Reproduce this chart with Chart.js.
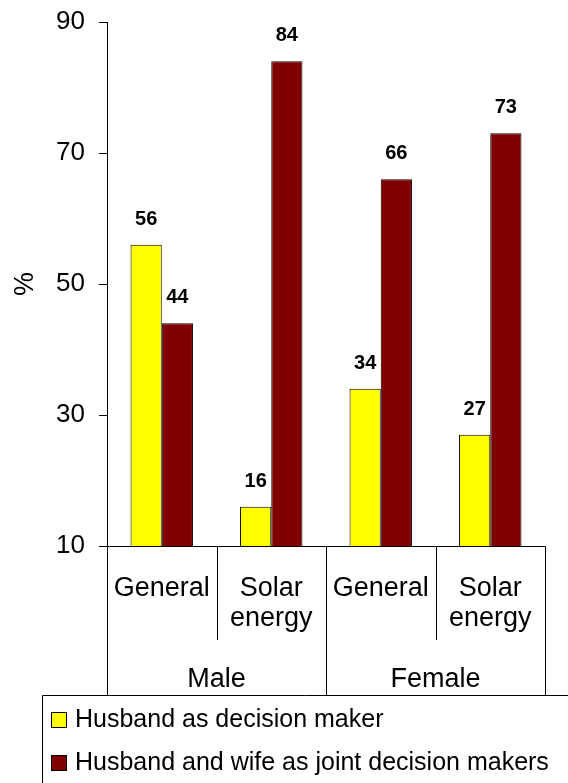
<!DOCTYPE html>
<html>
<head>
<meta charset="utf-8">
<script src="https://cdn.jsdelivr.net/npm/chart.js@4/dist/chart.umd.min.js"></script>
<style>
  html, body { margin: 0; padding: 0; background: #fff; }
  #wrap { width: 568px; height: 783px; }
</style>
</head>
<body>
<div id="wrap"><canvas id="c" width="568" height="783"></canvas></div>
<script>
// Decision-making shares (%) by respondent sex and decision topic
const groups = ['Male', 'Female'];
const categories = ['General', 'Solar energy', 'General', 'Solar energy'];
const categoryLines = [['General'], ['Solar', 'energy'], ['General'], ['Solar', 'energy']];
const husbandOnly = [56, 16, 34, 27];
const jointDecision = [44, 84, 66, 73];
const seriesNames = ['Husband as decision maker', 'Husband and wife as joint decision makers'];
const seriesColors = ['#FFFF00', '#800000'];
const yTicks = [10, 30, 50, 70, 90];

const FONT = '"Liberation Sans", Arial, Helvetica, sans-serif';

// Value labels, two-level category axis and boxed legend
const decorations = {
  id: 'decorations',
  afterDraw(chart) {
    const ctx = chart.ctx;
    const area = chart.chartArea;
    const xs = chart.scales.x;
    ctx.save();

    // value labels above each bar
    ctx.fillStyle = '#000';
    ctx.font = 'bold 20px ' + FONT;
    ctx.textAlign = 'center';
    ctx.textBaseline = 'alphabetic';
    chart.data.datasets.forEach((ds, di) => {
      chart.getDatasetMeta(di).data.forEach((bar, i) => {
        ctx.fillText(String(ds.data[i]), bar.x, bar.y - 20);
      });
    });

    // category axis box
    const n = categories.length;
    const step = (area.right - area.left) / n;
    const edge = i => Math.round(xs.getPixelForValue(i) - step / 2) + 0.5;
    const bottom = Math.round(area.bottom) + 0.5;
    const innerBottom = 640;
    const outerBottom = 695.5;
    ctx.strokeStyle = '#000';
    ctx.lineWidth = 1;
    ctx.beginPath();
    ctx.moveTo(edge(0), bottom);
    ctx.lineTo(Math.round(area.right) + 0.5, bottom);
    for (let i = 0; i <= n; i++) {
      const x = i === n ? Math.round(area.right) + 0.5 : edge(i);
      ctx.moveTo(x, bottom);
      ctx.lineTo(x, i % 2 === 0 ? outerBottom : innerBottom);
    }
    ctx.stroke();

    ctx.font = '27px ' + FONT;
    categoryLines.forEach((lines, i) => {
      const cx = xs.getPixelForValue(i);
      lines.forEach((t, k) => ctx.fillText(t, cx, 596 + k * 30));
    });
    groups.forEach((g, gi) => {
      const cx = (xs.getPixelForValue(gi * 2) + xs.getPixelForValue(gi * 2 + 1)) / 2;
      ctx.fillText(g, cx, 687);
    });

    // legend box
    ctx.beginPath();
    ctx.moveTo(42.5, 800);
    ctx.lineTo(42.5, outerBottom);
    ctx.lineTo(600, outerBottom);
    ctx.stroke();

    ctx.font = '25px ' + FONT;
    ctx.textAlign = 'left';
    seriesNames.forEach((name, k) => {
      const y = 712 + k * 43;
      ctx.fillStyle = seriesColors[k];
      ctx.fillRect(51, y, 15, 15);
      ctx.strokeStyle = '#000';
      ctx.strokeRect(51.5, y + 0.5, 15, 15);
      ctx.fillStyle = '#000';
      ctx.fillText(name, 75, y + 15);
    });
    ctx.restore();
  }
};

new Chart(document.getElementById('c'), {
  type: 'bar',
  data: {
    labels: categories,
    datasets: [
      { label: seriesNames[0], data: husbandOnly, backgroundColor: seriesColors[0] },
      { label: seriesNames[1], data: jointDecision, backgroundColor: seriesColors[1] }
    ]
  },
  options: {
    responsive: false,
    animation: false,
    devicePixelRatio: 1,
    layout: { padding: { left: 0, right: 23, top: 22, bottom: 237 } },
    datasets: {
      bar: {
        borderColor: '#000',
        borderWidth: 1,
        borderSkipped: false,
        categoryPercentage: 0.57,
        barPercentage: 1
      }
    },
    plugins: { legend: { display: false }, tooltip: { enabled: false } },
    scales: {
      x: { display: false },
      y: {
        min: 10,
        max: 90,
        afterBuildTicks: s => { s.ticks = yTicks.map(v => ({ value: v })); },
        afterFit: s => { s.width = 107; s.paddingTop = 0; s.paddingBottom = 0; },
        ticks: { color: '#000', padding: 14, font: { family: FONT, size: 26 } },
        grid: { drawOnChartArea: false, drawTicks: true, tickLength: 8, color: '#000' },
        border: { display: true, color: '#000', width: 1 },
        title: {
          display: true,
          text: '%',
          color: '#000',
          font: { family: FONT, size: 27 },
          padding: { top: 9, bottom: 0 }
        }
      }
    }
  },
  plugins: [decorations]
});
</script>
</body>
</html>
